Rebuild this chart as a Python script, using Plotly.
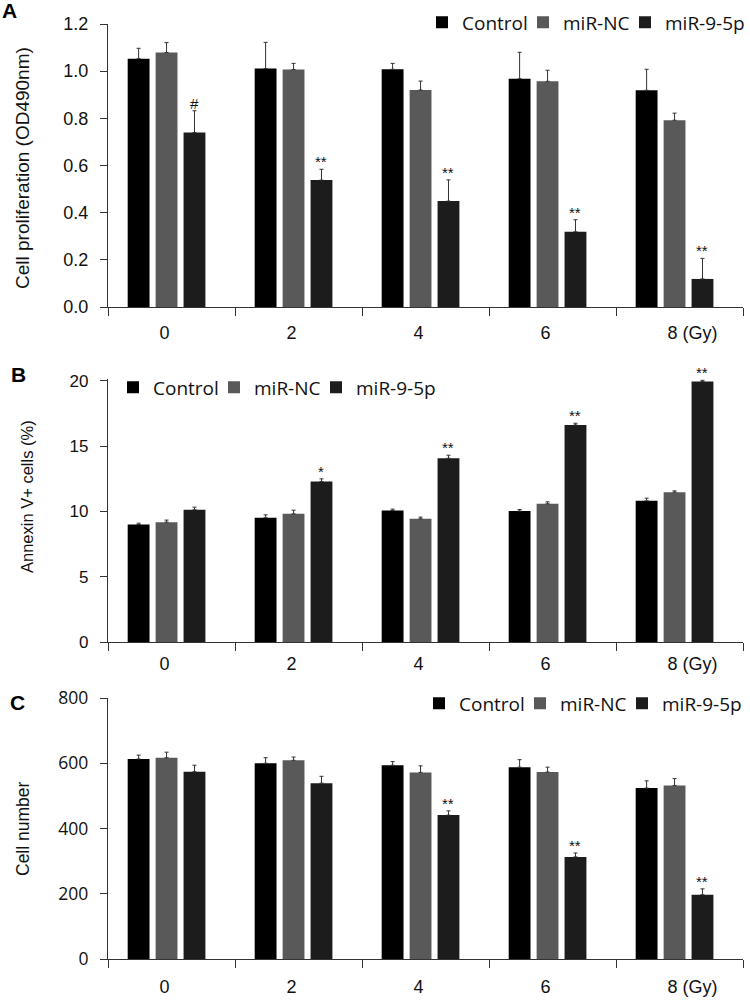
import plotly.graph_objects as go

W, H = 750, 1001

# ---------------- data ----------------
doses = ["0", "2", "4", "6", "8"]
dose_labels = ["0", "2", "4", "6", "\u00a0" * 8 + "8 (Gy)"]
groups = ["Control", "miR-NC", "miR-9-5p"]

# Panel A: cell proliferation (OD490nm)
prolif_control = [1.053, 1.011, 1.008, 0.968, 0.919]
prolif_control_err = [0.044, 0.111, 0.025, 0.112, 0.089]
prolif_nc = [1.079, 1.007, 0.920, 0.957, 0.792]
prolif_nc_err = [0.042, 0.026, 0.038, 0.047, 0.030]
prolif_mir = [0.740, 0.538, 0.449, 0.319, 0.119]
prolif_mir_err = [0.092, 0.046, 0.090, 0.051, 0.087]
prolif_sig = ["#", "**", "**", "**", "**"]
prolif_ticks = [0.0, 0.2, 0.4, 0.6, 0.8, 1.0, 1.2]

# Panel B: Annexin V+ cells (%)
annexin_control = [9.00, 9.52, 10.08, 10.03, 10.82]
annexin_control_err = [0.10, 0.22, 0.10, 0.12, 0.20]
annexin_nc = [9.18, 9.82, 9.44, 10.59, 11.48]
annexin_nc_err = [0.16, 0.28, 0.13, 0.15, 0.10]
annexin_mir = [10.13, 12.30, 14.08, 16.63, 19.95]
annexin_mir_err = [0.20, 0.20, 0.23, 0.13, 0.10]
annexin_sig = ["", "*", "**", "**", "**"]
annexin_ticks = [0, 5, 10, 15, 20]

# Panel C: cell number
count_control = [613, 600, 594, 588, 524]
count_control_err = [12, 17, 11, 23, 22]
count_nc = [617, 609, 572, 573, 532]
count_nc_err = [17, 10, 20, 15, 21]
count_mir = [574, 539, 441, 313, 197]
count_mir_err = [20, 21, 13, 12, 18]
count_sig = ["", "", "**", "**", "**"]
count_ticks = [0, 200, 400, 600, 800]

# ---------------- style ----------------
colors = ["#000000", "#595959", "#1c1c1c"]
bar_offsets = [-0.345, -0.125, 0.095]
bar_w = 0.172
legend_widths = [56, 57, None]
AX = "#333333"
ARIAL = "Liberation Sans, Arial, sans-serif"
OPEN = "Open Sans, sans-serif"


def px_x(x):
    return x / W


def px_y(y):
    return 1 - y / H


panels = [
    dict(series=[(prolif_control, prolif_control_err), (prolif_nc, prolif_nc_err),
                 (prolif_mir, prolif_mir_err)],
         sig=prolif_sig, ticks=prolif_ticks, fmt=".1f", yr=[0, 1.2],
         tfont=dict(family=ARIAL, size=18, color="#111"),
         title="Cell proliferation (OD490nm)", tsize=19, txy=(23, 168),
         dom=(24, 307), leg=(422, 21), letter=("A", 9.5, 10.5), xstand=9),
    dict(series=[(annexin_control, annexin_control_err), (annexin_nc, annexin_nc_err),
                 (annexin_mir, annexin_mir_err)],
         sig=annexin_sig, ticks=annexin_ticks, fmt="d", yr=[0, 20.15],
         tfont=dict(family=ARIAL, size=17, color="#111"),
         title="Annexin V+ cells (%)", tsize=16.5, txy=(27, 497),
         dom=(379, 642), leg=(113, 386), letter=("B", 18.5, 374.5), xstand=5),
    dict(series=[(count_control, count_control_err), (count_nc, count_nc_err),
                 (count_mir, count_mir_err)],
         sig=count_sig, ticks=count_ticks, fmt="d", yr=[0, 800],
         tfont=dict(family=OPEN, size=17.5, color="#111"),
         title="Cell number", tsize=17.5, txy=(23, 829),
         dom=(698, 959), leg=(419, 702), letter=("C", 17.5, 702.5), xstand=11),
]

fig = go.Figure()
annotations = []
layout = dict(
    template="none",
    width=W, height=H, margin=dict(l=0, r=0, t=0, b=0, pad=0, autoexpand=False),
    autosize=False, showlegend=True,
    paper_bgcolor="white", plot_bgcolor="white", barmode="overlay",
    font=dict(family=ARIAL, color="#111"),
)

for k, p in enumerate(panels):
    sfx = "" if k == 0 else str(k + 1)
    xa, ya = "x" + sfx, "y" + sfx
    legname = "legend" + sfx
    for j, (vals, errs) in enumerate(p["series"]):
        tr = go.Bar(
            x=doses, y=vals, name=groups[j], xaxis=xa, yaxis=ya,
            marker=dict(color=colors[j], line=dict(width=0)),
            offset=bar_offsets[j], width=bar_w,
            error_y=dict(type="data", array=errs, arrayminus=[0] * len(errs),
                         symmetric=False, color="#333", thickness=1, width=2),
            legend=legname, showlegend=True,
        )
        if legend_widths[j]:
            tr.legendwidth = legend_widths[j]
        fig.add_trace(tr)
    # significance marks above miR-9-5p bars
    mv, me = p["series"][2]
    for i, s in enumerate(p["sig"]):
        if s:
            annotations.append(dict(
                x=i + bar_offsets[2] + bar_w / 2, y=mv[i] + me[i], xref=xa, yref=ya,
                text=s, showarrow=False, yanchor="bottom", xanchor="center",
                yshift=-3, font=dict(family=ARIAL, size=15, color="#111")))
    top, bot = p["dom"]
    layout["xaxis" + sfx] = dict(
        domain=[px_x(108), px_x(743)], anchor=ya, type="category", automargin=False,
        categoryorder="array", categoryarray=doses, range=[-0.5, 4.5],
        tickmode="array", tickvals=doses, ticktext=dose_labels,
        tickson="boundaries", ticks="outside", ticklen=8, tickcolor=AX, tickwidth=1,
        showline=True, linecolor=AX, linewidth=1.2, showgrid=False, zeroline=False,
        tickfont=dict(family=ARIAL, size=18, color="#111"),
        ticklabelshift=-7, ticklabelstandoff=p["xstand"],
    )
    layout["yaxis" + sfx] = dict(
        domain=[px_y(bot), px_y(top)], anchor=xa, range=p["yr"], automargin=False,
        tickmode="array", tickvals=p["ticks"], tickformat=p["fmt"],
        ticks="outside", ticklen=7, tickcolor=AX, tickwidth=1,
        showline=True, linecolor=AX, linewidth=1.2, showgrid=False, zeroline=False,
        tickfont=p["tfont"], ticklabelstandoff=8,
    )
    lx, lyc = p["leg"]
    layout[legname] = dict(
        x=px_x(lx), y=px_y(lyc - 17.7), xanchor="left", yanchor="top",
        orientation="h", xref="paper", yref="paper", bgcolor="rgba(0,0,0,0)",
        font=dict(family=OPEN, size=19, color="#111"), itemwidth=30,
        traceorder="normal",
    )
    # y-axis title
    tx, ty = p["txy"]
    annotations.append(dict(
        x=px_x(tx), y=px_y(ty), xref="paper", yref="paper", text=p["title"],
        textangle=-90, showarrow=False, xanchor="center", yanchor="middle",
        font=dict(family=ARIAL, size=p["tsize"], color="#111")))
    # panel letter
    letter, lxp, lyp = p["letter"]
    annotations.append(dict(
        x=px_x(lxp), y=px_y(lyp), xref="paper", yref="paper", text=letter,
        showarrow=False, xanchor="center", yanchor="middle",
        font=dict(family=ARIAL, size=21, color="#000", weight="bold")))

layout["annotations"] = annotations
fig.update_layout(**layout)
fig.write_html(
    "out.html",
    config={"displayModeBar": False, "staticPlot": False},
    post_script="document.body.style.margin='0px';document.body.style.overflow='hidden';",
)
